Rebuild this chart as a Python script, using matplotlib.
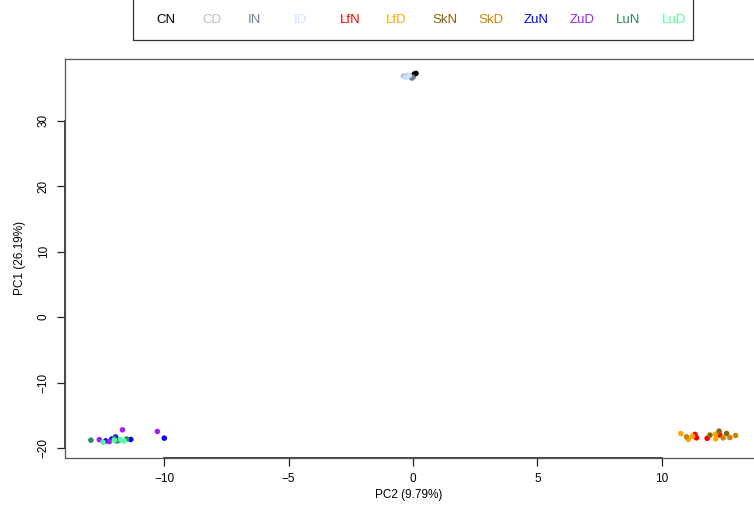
import numpy as np
import matplotlib
matplotlib.use("Agg")
import matplotlib.pyplot as plt
from matplotlib.patches import Rectangle
import matplotlib.transforms as mtransforms

plt.rcParams['font.family'] = ['Liberation Sans', 'DejaVu Sans']

groups = ["CN", "CD", "IN", "ID", "LfN", "LfD", "SkN", "SkD", "ZuN", "ZuD", "LuN", "LuD"]
colors = ["#000000", "#BEBEBE", "#708090", "#CAE1FF", "#FF0000", "#FFA500",
          "#8B6508", "#CD8500", "#0000FF", "#A020F0", "#2E8B57", "#54FF9F"]

# PC2 (x) and PC1 (y) scores per group
pc2 = {
    "CN":  [0.05, 0.12, 0.02],
    "CD":  [-0.38, -0.28, -0.22],
    "IN":  [-0.05, 0.0],
    "ID":  [-0.15, -0.30],
    "LfN": [11.33, 11.39, 11.82, 12.33],
    "LfD": [10.76, 11.06, 11.23, 12.16, 12.16],
    "SkN": [11.93, 12.30, 12.60],
    "SkD": [10.99, 12.46, 12.73, 12.96],
    "ZuN": [-9.99, -11.34, -12.10, -11.95, -12.35],
    "ZuD": [-12.60, -11.67, -10.27, -12.20, -11.80],
    "LuN": [-12.94, -11.50, -11.90, -12.00],
    "LuD": [-12.45, -12.00, -11.75, -11.60],
}
pc1 = {
    "CN":  [37.1, 37.2, 36.9],
    "CD":  [36.8, 36.7, 36.9],
    "IN":  [36.5, 36.6],
    "ID":  [36.9, 36.6],
    "LfN": [-17.90, -18.42, -18.50, -18.00],
    "LfD": [-17.76, -18.67, -18.17, -17.86, -18.58],
    "SkN": [-18.00, -17.40, -17.76],
    "SkD": [-18.27, -18.42, -18.37, -18.06],
    "ZuN": [-18.47, -18.67, -18.60, -18.30, -18.90],
    "ZuD": [-18.70, -17.20, -17.45, -19.00, -18.80],
    "LuN": [-18.78, -18.60, -18.90, -18.50],
    "LuD": [-19.10, -18.80, -18.70, -18.90],
}

xticks = [-10, -5, 0, 5, 10]
yticks = [-20, -10, 0, 10, 20, 30]

fig = plt.figure(figsize=(7.54, 5.12), dpi=100)
W, H = 754, 512
ax = fig.add_axes([65 / W, 1 - 458 / H, (754 - 65) / W, (458 - 59) / H])

for g, c in zip(groups, colors):
    ax.scatter(pc2[g], pc1[g], s=16, color=c, edgecolors='none', zorder=3)

ax.set_xlim(-13.98, 13.7)
ax.set_ylim(-21.5, 39.4)

for s in ax.spines.values():
    s.set_color('#555555')
    s.set_linewidth(0.9)
ax.spines['right'].set_visible(False)

ax.set_xticks(xticks)
ax.set_xticklabels([str(t).replace('-', '\u2212') for t in xticks])
ax.set_yticks(yticks)
ax.set_yticklabels([str(t).replace('-', '\u2212') for t in yticks], rotation=90, va='center')
ax.tick_params(direction='out', length=6, width=0.9, color='#222222',
               labelsize=8.5, pad=5)

# axis lines spanning the tick range only
tx = mtransforms.blended_transform_factory(ax.transData, ax.transAxes)
ty = mtransforms.blended_transform_factory(ax.transAxes, ax.transData)
ax.plot([xticks[0], xticks[-1]], [0, 0], transform=tx, color='#222222', lw=1.2, clip_on=False)
ax.plot([0, 0], [yticks[0], yticks[-1]], transform=ty, color='#222222', lw=1.2, clip_on=False)

fig.text(409 / W, 1 - 495 / H, "PC2 (9.79%)", ha='center', va='center', fontsize=8.5)
fig.text(20 / W, 1 - 258 / H, "PC1 (26.19%)", ha='center', va='center', fontsize=8.5, rotation=90)

# legend box across the top
fig.patches.append(Rectangle((133 / W, 1 - 40 / H), (693 - 133) / W, 60 / H,
                             transform=fig.transFigure, fill=False,
                             edgecolor='#333333', lw=0.9))
for i, (g, c) in enumerate(zip(groups, colors)):
    fig.text((156 + i * 46) / W, 1 - 20 / H, g, color=c, ha='left', va='center', fontsize=9.5)

fig.savefig("out.png", dpi=100)
